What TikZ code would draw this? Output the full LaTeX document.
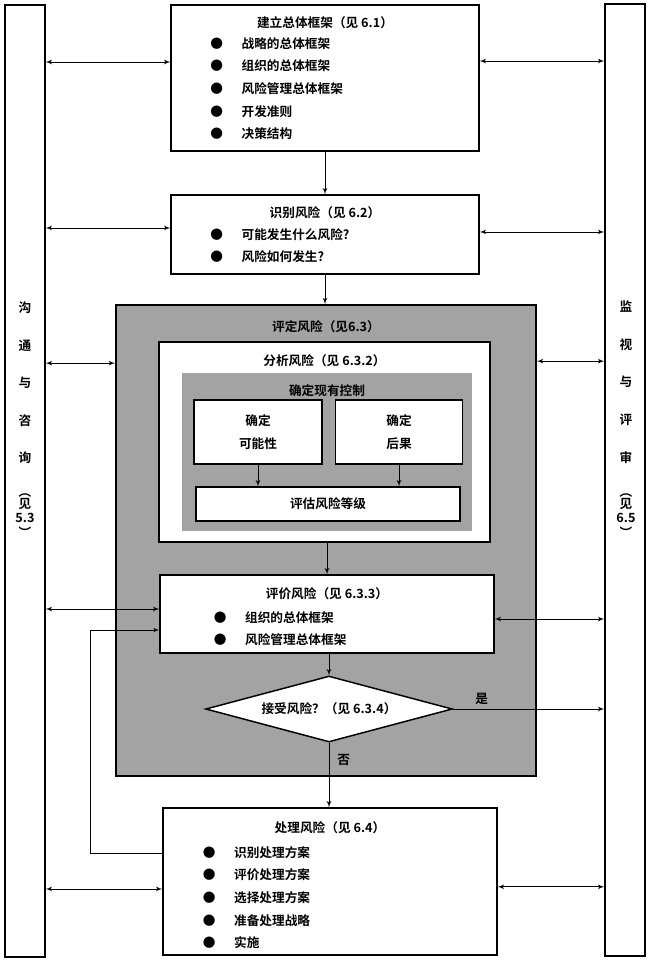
\documentclass[tikz,border=0pt]{standalone}
\usepackage{fontspec}
\setmainfont{Noto Sans CJK SC}[UprightFont={* Bold}]
\usetikzlibrary{arrows,positioning,calc,shapes.geometric}
\tikzstyle{line} = [draw, -latex']

\begin{document}
\begin{tikzpicture}
 	[x=0.75pt, y=-0.75pt, font=\fontsize{9.5}{17}\selectfont,
 	% STYLES
 	% The stepbox style is used for the white boxes of the process
 	stepbox/.style={rectangle, draw, line width=1.1pt, fill=white, inner sep=0pt},
 	% The grayarea style is used for the shaded areas
 	grayarea/.style={rectangle, fill=black!36, inner sep=0pt},
 	% The column style is used for the two columns on the sides
 	column/.style={rectangle, draw, line width=1.1pt, minimum width=30pt, minimum height=714pt, inner sep=0pt},
 	% The coltext style is used for the vertical texts of the columns
 	coltext/.style={anchor=north, align=center, inner sep=0pt, font=\fontsize{9.5}{9}\selectfont},
 	% The points style is used for the bullet lists
 	points/.style={anchor=north west, align=left, inner sep=0pt},
 	% The twoway style is used for the links to the columns
 	twoway/.style={<->, >=latex', line width=0.6pt}]
 	
 	\useasboundingbox (0,0) rectangle (650,961);
 	
 	% columns
 	\node [column] (Comm) at (25,481) {};
 	\node [column] (Monitor) at (625,480) {};
 	\node [coltext] (CommT) at (25,301) {沟\\[19.5pt]通\\[19pt]与\\[19.5pt]咨\\[18.75pt]询\\[16.5pt]︵\\见\\[1.5pt]5.3\\[2.25pt]︶};
 	\node [coltext] (MonitorT) at (626,300) {监\\[19.5pt]视\\[19pt]与\\[19.5pt]评\\[18.75pt]审\\[16.5pt]︵\\见\\[1.5pt]6.5\\[2.25pt]︶};
 	
 	% establish the context
 	\node [stepbox, minimum width=231pt, minimum height=109.5pt] (Frame) at (325,78) {};
 	\node [below = 5.5pt of Frame.north] (FrameT) {建立总体框架（见 6.1）};
 	\node [points] (FrameL) at (210,37) {●\hspace{14pt}战略的总体框架\\●\hspace{14pt}组织的总体框架\\●\hspace{14pt}风险管理总体框架\\●\hspace{14pt}开发准则\\●\hspace{14pt}决策结构};
 	
 	% identify risks
 	\node [stepbox, minimum width=231pt, minimum height=59.25pt] (Ident) at (325,234.5) {};
 	\node [below = 6pt of Ident.north] (IdentT) {识别风险（见 6.2）};
 	\node [points] (IdentL) at (210,228) {●\hspace{14pt}可能发生什么风险?\\●\hspace{14pt}风险如何发生?};
 	
 	% assess risks
 	\node [grayarea, draw, line width=1.3pt, minimum width=315pt, minimum height=353.25pt] (Assess) at (326,540.5) {};
 	\node [below = 9pt of Assess.north] (AssessT) {评定风险（见6.3）};
 	\node [stepbox, minimum width=248.25pt, minimum height=150pt] (Analyse) at (324.5,442) {};
 	\node [below = 6.5pt of Analyse.north] (AnalyseT) {分析风险（见 6.3.2）};
 	\node [grayarea, minimum width=217.5pt, minimum height=118.5pt] (Control) at (327,452) {};
 	\node [below = 5pt of Control.north] (ControlT) {确定现有控制};
 	\node [stepbox, align=center, minimum width=96pt, minimum height=48pt] (Likely) at (258,432) {确定\\可能性};
 	\node [stepbox, align=center, minimum width=95pt, minimum height=48pt] (Conseq) at (399,432) {确定\\后果};
 	\node [stepbox, minimum width=198pt, minimum height=25.5pt] (Level) at (328,504) {评估风险等级};
 	
 	% evaluate risks
 	\node [stepbox, minimum width=250.5pt, minimum height=58.5pt] (Evaluate) at (327,614) {};
 	\node [below = 6.5pt of Evaluate.north] (EvaluateT) {评价风险（见 6.3.3）};
 	\node [points] (EvaluateL) at (213.5,611) {●\hspace{14pt}组织的总体框架\\●\hspace{14pt}风险管理总体框架};
 	\node [diamond, draw, line width=1.1pt, fill=white, inner sep=0pt, shape aspect=3.7, minimum width=185pt, minimum height=49.5pt] (Accept) at (329,709) {接受风险？（见 6.3.4）};
 	
 	% treat risks
 	\node [stepbox, minimum width=250.5pt, minimum height=110.25pt] (Treat) at (330,881.5) {};
 	\node [below = 7pt of Treat.north] (TreatT) {处理风险（见 6.4）};
 	\node [points] (TreatL) at (202.5,846) {●\hspace{14pt}识别处理方案\\●\hspace{14pt}评价处理方案\\●\hspace{14pt}选择处理方案\\●\hspace{14pt}准备处理战略\\●\hspace{14pt}实施};
 	
 	% points where the links leave the boxes
 	\coordinate (fl) at ([yshift=12pt]Frame.west);
 	\coordinate (fr) at ([yshift=12.75pt]Frame.east);
 	\coordinate (il) at ([yshift=4.9pt]Ident.west);
 	\coordinate (ir) at ([yshift=1.9pt]Ident.east);
 	\coordinate (al) at ([yshift=-44.25pt]Assess.north west);
 	\coordinate (ar) at ([yshift=-42.75pt]Assess.north east);
 	\coordinate (el) at ([yshift=3.75pt]Evaluate.west);
 	\coordinate (er) at ([yshift=-3.75pt]Evaluate.east);
 	\coordinate (eb) at ([yshift=-12pt]Evaluate.west);
 	\coordinate (tb) at ([yshift=21.4pt]Treat.west);
 	\coordinate (tl) at ([yshift=-5.6pt]Treat.west);
 	\coordinate (tr) at ([yshift=-4pt]Treat.east);
 	
 	% main flow
 	\path[line, line width=0.6pt]
 	(Frame.south) -- (Ident.north);
 	\path[line, line width=0.6pt]
 	(Ident.south) -- (Ident.south |- Assess.north);
 	\path[line, line width=0.6pt]
 	(Likely.south) -- (Likely.south |- Level.north);
 	\path[line, line width=0.6pt]
 	(Conseq.south) -- (Conseq.south |- Level.north);
 	\path[line, line width=0.6pt]
 	(Evaluate.north |- Analyse.south) -- (Evaluate.north);
 	\path[line, line width=0.6pt]
 	(Accept.north |- Evaluate.south) -- (Accept.north);
 	\path[line, line width=0.6pt]
 	(Accept.south) -- node[right, pos=0.26, inner sep=6pt] (No) {否} (Accept.south |- Treat.north);
 	\path[line, line width=0.6pt]
 	(Accept.east) -- node[above, pos=0.19, inner sep=3pt] (Yes) {是} (Accept.east -| Monitor.west);
 	% back from treating to evaluating
 	\path[line, line width=0.5pt]
 	(tb) -- ++(-72,0) |- (eb);
 	
 	% links to the columns
 	\path[twoway]
 	(fl) edge (fl -| Comm.east)
 	(il) edge (il -| Comm.east)
 	(al) edge (al -| Comm.east)
 	(el) edge (el -| Comm.east)
 	(tl) edge (tl -| Comm.east)
 	(fr) edge (fr -| Monitor.west)
 	(ir) edge (ir -| Monitor.west)
 	(ar) edge (ar -| Monitor.west)
 	(er) edge (er -| Monitor.west)
 	(tr) edge (tr -| Monitor.west);
 	
\end{tikzpicture}
\end{document}
